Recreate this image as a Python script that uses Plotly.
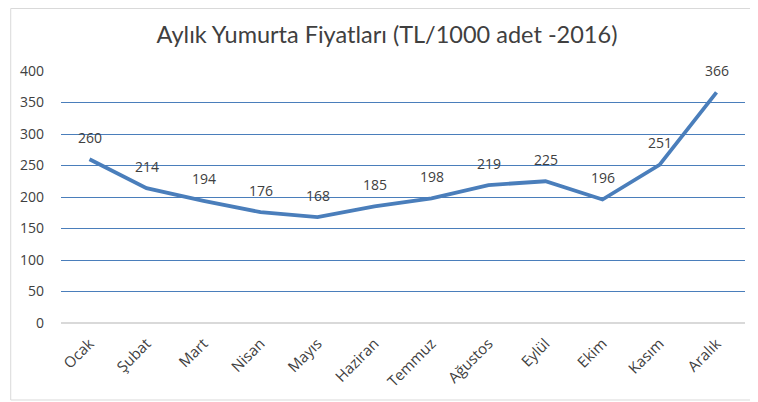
import plotly.graph_objects as go

months = ["Ocak", "Şubat", "Mart", "Nisan", "Mayıs", "Haziran", "Temmuz",
          "Ağustos", "Eylül", "Ekim", "Kasım", "Aralık"]
prices = [260, 214, 194, 176, 168, 185, 198, 219, 225, 196, 251, 366]
y_ticks = [0, 50, 100, 150, 200, 250, 300, 350, 400]

line_color = "#4a7ebb"
text_color = "#404040"

fig = go.Figure()
fig.add_trace(go.Scatter(
    x=months, y=prices, mode="lines",
    line=dict(color=line_color, width=3.8),
    hoverinfo="x+y", showlegend=False,
))

for m, v in zip(months, prices):
    fig.add_annotation(x=m, y=v, text=str(v), showarrow=False, yshift=22,
                       font=dict(family="Open Sans", size=14, color=text_color))

fig.update_layout(
    width=758, height=402,
    margin=dict(l=51, r=21, t=63, b=87),
    paper_bgcolor="white", plot_bgcolor="white",
    title=dict(text="Aylık Yumurta Fiyatları (TL/1000 adet -2016)",
               x=0.5, xanchor="center", y=0.933, yanchor="middle",
               font=dict(family="Lato", size=23.5, color=text_color)),
    xaxis=dict(type="category", range=[-0.5, len(months) - 0.5], tickangle=-45,
               showgrid=False, showline=False, ticks="", ticklabelstandoff=8,
               tickfont=dict(family="Open Sans", size=15, color=text_color)),
    yaxis=dict(range=[0, 400], tickvals=y_ticks, showgrid=True,
               gridcolor=line_color, gridwidth=1, zeroline=True,
               zerolinecolor="#d9d9d9", zerolinewidth=1.5, showline=False,
               ticks="", ticklabelstandoff=16,
               tickfont=dict(family="Open Sans", size=14, color=text_color)),
    shapes=[dict(type="rect", xref="paper", yref="paper",
                 x0=-0.0735, x1=1.0087, y0=-0.3056, y1=1.248,
                 line=dict(color="#d9d9d9", width=1), layer="below")],
)

fig.write_html("out.html")
